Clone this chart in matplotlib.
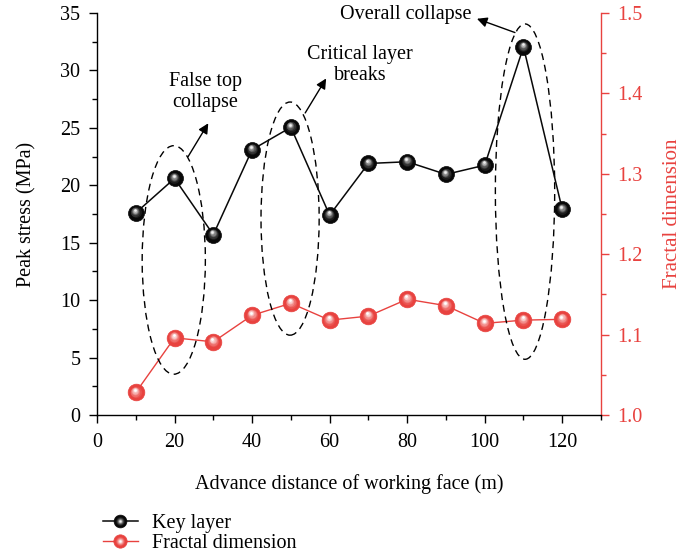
import matplotlib
matplotlib.use("Agg")
import matplotlib.pyplot as plt
from matplotlib.patches import Ellipse
from matplotlib.legend_handler import HandlerTuple
from matplotlib.transforms import ScaledTranslation
from matplotlib.ticker import MultipleLocator

plt.rcParams['font.family'] = ['Liberation Serif', 'DejaVu Serif']

# advance distance (m)
distance = [10, 20, 30, 40, 50, 60, 70, 80, 90, 100, 110, 120]
# peak stress of the key layer (MPa)
key_layer = [17.6, 20.6, 15.7, 23.1, 25.05, 17.4, 21.9, 22.05, 20.95, 21.75, 32.05, 17.9]
# fractal dimension of the fracture network
fractal = [1.028, 1.096, 1.091, 1.124, 1.139, 1.118, 1.123, 1.144, 1.136, 1.114, 1.118, 1.119]

x_ticks = [0, 20, 40, 60, 80, 100, 120]
left_ticks = [0, 5, 10, 15, 20, 25, 30, 35]
right_ticks = [1.0, 1.1, 1.2, 1.3, 1.4, 1.5]

# (x centre, y centre, width, height) of the dashed regions, in axis data units
regions = [(19.8, 13.5, 16.3, 19.9), (49.8, 17.1, 15.0, 20.3), (110.4, 19.45, 15.3, 29.2)]
# annotation text, text position, arrow tail, arrow head
notes = [
    ("False top\ncollapse", (27.9, 28.1), (23.5, 22.5), (28.7, 25.4)),
    ("Critical layer\nbreaks", (67.8, 30.5), (53.7, 26.3), (59.1, 29.3)),
    ("Overall collapse", (79.7, 34.85), (107.8, 33.3), (98.0, 34.5)),
]

RED = '#E8423F'
FS = 14.5

fig = plt.figure(figsize=(6.85, 5.59), dpi=100)
ax = fig.add_axes([0.1416, 0.2576, 0.8774 - 0.1416, 0.9767 - 0.2576])
ax2 = ax.twinx()


def sphere(axis, xs, ys, base, shades, size, lw, zorder):
    """Line with ball markers: a dark disc plus a stack of lighter,
    shrinking discs nudged up and left to fake a specular highlight."""
    main, = axis.plot(xs, ys, '-', color=base, lw=lw, marker='o', ms=size,
                      mfc=base, mec=base, mew=0.5, zorder=zorder, clip_on=False)
    layers = [main]
    n = len(shades)
    for i, col in enumerate(shades):
        frac = (i + 1) / n
        scale = 0.78 - 0.62 * frac
        off = ScaledTranslation(-0.7 * frac / 72, 2.0 * frac / 72, fig.dpi_scale_trans)
        ln, = axis.plot(xs, ys, ls='none', marker='o', ms=size * scale, mfc=col,
                        mec='none', transform=axis.transData + off,
                        zorder=zorder + 0.01 * (i + 1), clip_on=False)
        layers.append(ln)
    return tuple(layers)


key_handles = sphere(ax, distance, key_layer, '#080808',
                     ['#1c1c1c', '#333333', '#555555', '#808080', '#b4b4b4', '#f0f0f0'],
                     11.5, 1.1, 5)
frac_handles = sphere(ax2, distance, fractal, RED,
                      ['#ea5350', '#ee6d6a', '#f28c8a', '#f6b0ae', '#fad3d2', '#ffffff'],
                      12, 1.0, 5)

for cx, cy, w, h in regions:
    ax.add_patch(Ellipse((cx, cy), w, h, fill=False, ec='black', lw=1.0,
                         ls=(0, (5, 3.5)), zorder=3))

for text, tpos, tail, head in notes:
    ax.annotate('', xy=head, xytext=tail,
                arrowprops=dict(arrowstyle='-|>', color='black', lw=1.0,
                                mutation_scale=15, shrinkA=0, shrinkB=0),
                annotation_clip=False, zorder=4)
    ax.text(tpos[0], tpos[1], text, ha='center', va='center', fontsize=FS,
            linespacing=1.15, clip_on=False)

ax.set_xlim(0, 130)
ax.set_ylim(0, 35)
ax2.set_ylim(1.0, 1.5)
ax.set_xticks(x_ticks)
ax.set_yticks(left_ticks)
ax2.set_yticks(right_ticks)
ax2.set_yticklabels([f'{v:.1f}' for v in right_ticks])
ax.xaxis.set_minor_locator(MultipleLocator(10))
ax.yaxis.set_minor_locator(MultipleLocator(2.5))
ax2.yaxis.set_minor_locator(MultipleLocator(0.05))

for a in (ax, ax2):
    a.spines['top'].set_visible(False)
ax.spines['right'].set_visible(False)
ax2.spines['left'].set_visible(False)
ax2.spines['bottom'].set_visible(False)
ax2.spines['right'].set_color(RED)
for s in ('left', 'bottom'):
    ax.spines[s].set_linewidth(1.0)
ax2.spines['right'].set_linewidth(1.0)

ax.tick_params(which='major', direction='out', length=6, width=1.0, labelsize=FS, pad=6)
ax.tick_params(which='minor', direction='out', length=3.5, width=1.0)
ax.tick_params(axis='x', which='major', pad=7)
ax2.tick_params(which='major', direction='out', length=6, width=1.0, labelsize=FS,
                colors=RED, pad=6)
ax2.tick_params(which='minor', direction='out', length=3.5, width=1.0, colors=RED)

ax.set_xlabel('Advance distance of working face (m)', fontsize=FS, labelpad=16)
ax.set_ylabel('Peak stress (MPa)', fontsize=FS, labelpad=17)
ax2.set_ylabel('Fractal dimension', fontsize=15, color=RED, labelpad=14)

ax.set_zorder(ax2.get_zorder() + 1)
ax.patch.set_visible(False)

fig.legend([key_handles, frac_handles], ['Key layer', 'Fractal dimension'],
           handler_map={tuple: HandlerTuple(ndivide=1, pad=0)},
           loc='upper left', bbox_to_anchor=(0.150, 0.081), frameon=False,
           fontsize=FS, handlelength=1.75, handletextpad=0.7, labelspacing=0.05,
           markerscale=0.8, borderaxespad=0, borderpad=0)

fig.savefig('out.png', dpi=100)
